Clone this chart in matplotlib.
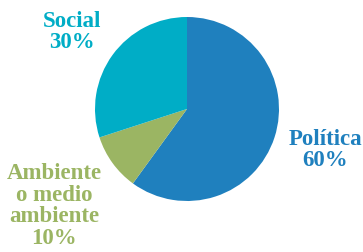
import matplotlib
matplotlib.use("Agg")
import matplotlib.pyplot as plt

# Data
LABELS = ["Política", "Ambiente\no medio\nambiente", "Social"]
SHARES = [60, 10, 30]
COLORS = ["#1F80BE", "#9BB563", "#00ADC6"]

W, H = 363, 252
DPI = 100
fig = plt.figure(figsize=(W / DPI, H / DPI), dpi=DPI)

# pie centre (187, 109) px from top-left, radius 92 px
cx, cy, r = 187, 109, 92
ax = fig.add_axes([(cx - r) / W, (H - cy - r) / H, 2 * r / W, 2 * r / H])
ax.pie(SHARES, colors=COLORS, startangle=90, counterclock=False,
       radius=1, wedgeprops=dict(linewidth=0))
ax.set_xlim(-1, 1)
ax.set_ylim(-1, 1)
ax.axis("off")

# label positions in pixels (centre of text block)
label_pos = [(325, 150), (54, 206), (72, 32)]
for lab, share, col, (x, y) in zip(LABELS, SHARES, COLORS, label_pos):
    fig.text(x / W, 1 - y / H, f"{lab}\n{share}%", color=col,
             ha="center", va="center", fontsize=16.5, fontweight="bold",
             family="Liberation Serif", linespacing=1.05)

fig.savefig("out.png", dpi=DPI)
